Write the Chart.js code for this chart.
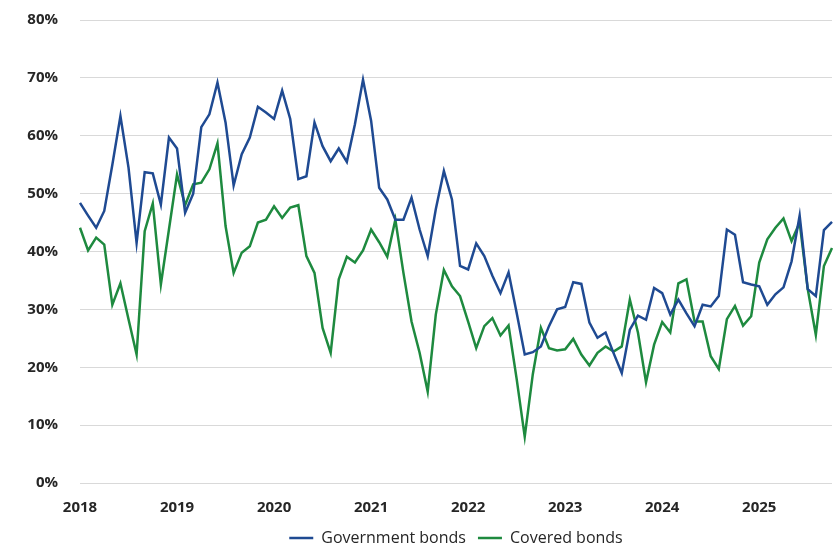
<!DOCTYPE html>
<html>
<head>
<meta charset="utf-8">
<script src="https://cdn.jsdelivr.net/npm/chart.js@4.4.1/dist/chart.umd.min.js"></script>
<style>
  html, body { margin: 0; padding: 0; background: #fff; }
  #wrap { width: 834px; height: 548px; }
</style>
</head>
<body>
<div id="wrap"><canvas id="bondsChart"></canvas></div>
<script>
// monthly, Jan 2018 .. Oct 2025
const years = ['2018', '2019', '2020', '2021', '2022', '2023', '2024', '2025'];
const monthsInLastYear = 10;

const governmentBonds = [
    48.4, 46.2, 44.1, 47.0, 55.0, 63.4, 54.5, 41.5, 53.7, 53.5, 48.1, 59.7,
    57.8, 46.7, 50.0, 61.5, 63.7, 69.2, 62.3, 51.4, 56.8, 59.7, 65.0, 64.0,
    62.9, 67.8, 62.9, 52.5, 53.0, 62.3, 58.2, 55.6, 57.8, 55.5, 62.0, 69.7,
    62.6, 51.0, 49.0, 45.5, 45.5, 49.3, 43.8, 39.2, 47.3, 53.9, 49.0, 37.5,
    36.9, 41.4, 39.2, 35.8, 32.8, 36.4, 29.4, 22.2, 22.6, 23.6, 27.1, 30.0,
    30.4, 34.7, 34.4, 27.7, 25.1, 26.0, 22.4, 19.0, 26.5, 28.9, 28.2, 33.7,
    32.8, 29.1, 31.7, 29.3, 27.1, 30.8, 30.5, 32.3, 43.8, 42.9, 34.7, 34.3,
    34.0, 30.8, 32.6, 33.8, 38.3, 46.2, 33.5, 32.3, 43.7, 45.1
];

const coveredBonds = [
    44.1, 40.2, 42.4, 41.2, 30.8, 34.5, 28.3, 22.2, 43.5, 48.3, 34.3, 43.8,
    53.3, 48.0, 51.6, 51.9, 54.2, 58.7, 44.4, 36.3, 39.8, 40.9, 45.0, 45.5,
    47.8, 45.8, 47.6, 48.0, 39.2, 36.3, 26.8, 22.5, 35.2, 39.1, 38.1, 40.2,
    43.8, 41.6, 39.1, 45.5, 36.3, 27.9, 22.5, 15.8, 29.1, 36.8, 34.0, 32.3,
    27.9, 23.3, 27.1, 28.5, 25.5, 27.2, 18.0, 8.0, 18.8, 26.8, 23.3, 22.9,
    23.1, 24.9, 22.2, 20.3, 22.5, 23.6, 22.7, 23.6, 31.7, 26.0, 17.4, 23.9,
    27.8, 26.0, 34.5, 35.2, 27.9, 27.9, 21.9, 19.7, 28.3, 30.6, 27.2, 28.8,
    38.1, 42.1, 44.1, 45.7, 41.8, 45.0, 33.5, 25.6, 37.5, 40.6
];

const yMax = 80;
const yStep = 10;

// one category per month, labelled "2018-01" etc.
const labels = [];
years.forEach((y, i) => {
    const n = i === years.length - 1 ? monthsInLastYear : 12;
    for (let m = 1; m <= n; m++) labels.push(y + '-' + String(m).padStart(2, '0'));
});

const tickFont = { family: 'Open Sans', size: 15, weight: 'bold' };

new Chart(document.getElementById('bondsChart').getContext('2d'), {
    type: 'line',
    data: {
        labels: labels,
        datasets: [
            {
                label: 'Government bonds',
                data: governmentBonds,
                borderColor: '#1f4a92',
                backgroundColor: '#1f4a92',
                borderWidth: 2.5,
                pointRadius: 0,
                tension: 0
            },
            {
                label: 'Covered bonds',
                data: coveredBonds,
                borderColor: '#1e8a3f',
                backgroundColor: '#1e8a3f',
                borderWidth: 2.5,
                pointRadius: 0,
                tension: 0
            }
        ]
    },
    options: {
        responsive: true,
        maintainAspectRatio: false,
        animation: false,
        // legend box carries 10px of slack below the text; let it hang off the bottom
        layout: { padding: { left: 0, right: 2, top: 20, bottom: -8 } },
        plugins: {
            tooltip: { enabled: false },
            legend: {
                position: 'bottom',
                fullSize: false,
                labels: {
                    font: { family: 'Open Sans', size: 16 },
                    color: '#262626',
                    usePointStyle: true,
                    pointStyle: 'line',
                    pointStyleWidth: 24,
                    padding: 12
                }
            }
        },
        scales: {
            x: {
                grid: { display: false, drawTicks: false },
                border: { display: false },
                ticks: {
                    autoSkip: false,
                    maxRotation: 0,
                    padding: 16,
                    font: tickFont,
                    color: '#262626',
                    callback: function (value, index) {
                        return index % 12 === 0 ? years[index / 12] : '';
                    }
                },
                afterFit: function (scale) {
                    scale.height = 35;
                    scale.paddingLeft = 0;
                    scale.paddingRight = 0;
                }
            },
            y: {
                min: 0,
                max: yMax,
                grid: { color: '#d9d9d9', lineWidth: 1, drawTicks: false },
                border: { display: false },
                ticks: {
                    stepSize: yStep,
                    padding: 22,
                    font: tickFont,
                    color: '#262626',
                    callback: function (value) { return value + '%'; }
                },
                afterFit: function (scale) {
                    scale.width = 80;
                    scale.paddingTop = 0;
                    scale.paddingBottom = 0;
                }
            }
        }
    }
});
</script>
</body>
</html>
